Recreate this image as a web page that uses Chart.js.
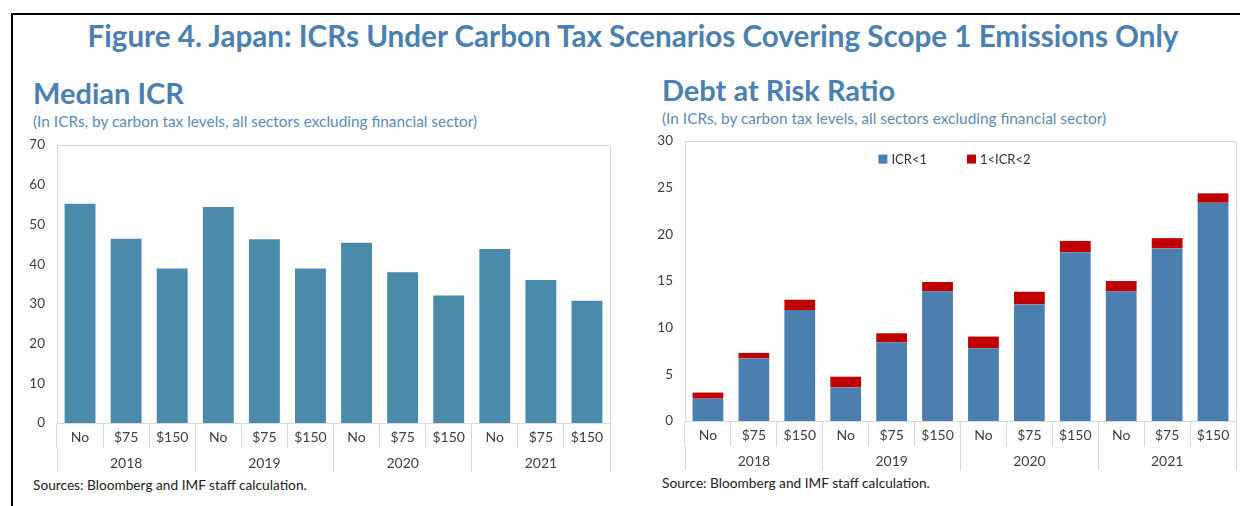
<!DOCTYPE html>
<html>
<head>
<meta charset="utf-8">
<script src="https://cdn.jsdelivr.net/npm/chart.js@4.4.1/dist/chart.umd.min.js"></script>
<style>
  body { margin: 0; width: 1240px; height: 506px; background: #fff; position: relative; overflow: hidden; font-family: Lato, "Open Sans", sans-serif; }
  .frame { position: absolute; left: 11px; top: 13px; width: 1240px; height: 500px; border-top: 2px solid #000; border-left: 2px solid #000; }
  .txt { position: absolute; white-space: nowrap; }
  .fig { left: 13px; width: 1240px; text-align: center; top: 20px; font-size: 29.6px; line-height: 32px; font-weight: 700; color: #4a80b2; }
  .head { font-size: 29px; line-height: 32px; font-weight: 700; color: #4a80b2; }
  .sub { font-size: 15.4px; line-height: 18px; color: #5b8cbc; }
  .src { font-size: 13.7px; line-height: 16px; color: #222; }
  canvas { position: absolute; }
</style>
</head>
<body>
<div class="frame"></div>
<div class="txt fig">Figure 4. Japan: ICRs Under Carbon Tax Scenarios Covering Scope 1 Emissions Only</div>

<div class="txt head" style="left:33px; top:77px;">Median ICR</div>
<div class="txt sub" style="left:33px; top:112px;">(In ICRs, by carbon tax levels, all sectors excluding financial sector)</div>
<div class="txt src" style="left:33px; top:477px;">Sources: Bloomberg and IMF staff calculation.</div>

<div class="txt head" style="left:662px; top:74px;">Debt at Risk Ratio</div>
<div class="txt sub" style="left:662px; top:109px;">(In ICRs, by carbon tax levels, all sectors excluding financial sector)</div>
<div class="txt src" style="left:662px; top:475px;">Source: Bloomberg and IMF staff calculation.</div>

<canvas id="icrChart" width="600" height="355" style="left:15px; top:125px;"></canvas>
<canvas id="darChart" width="600" height="355" style="left:640px; top:121px;"></canvas>

<script>
const years = ['2018', '2019', '2020', '2021'];
const taxLevels = ['No', '$75', '$150'];
const scenarioLabels = years.flatMap(() => taxLevels);

// median interest coverage ratio per year / tax scenario
const medianIcr = [55.2, 46.4, 38.9, 54.4, 46.3, 38.9, 45.4, 38.0, 32.1, 43.8, 36.0, 30.8];

// debt at risk, split by ICR bucket
const icrBelow1 = [2.4, 6.7, 11.9, 3.6, 8.45, 13.9, 7.8, 12.5, 18.1, 13.9, 18.5, 23.4];
const icr1to2 = [0.65, 0.6, 1.1, 1.15, 0.95, 1.0, 1.25, 1.35, 1.2, 1.1, 1.1, 1.0];

const leftTicks = { min: 0, max: 70, step: 10 };
const rightTicks = { min: 0, max: 30, step: 5 };

const FONT = 'Lato, "Open Sans", sans-serif';
const INK = '#404040';
const RULE = '#d9d9d9';

Chart.defaults.font.family = FONT;
Chart.defaults.color = INK;
Chart.defaults.animation = false;

// light box round the plot area
const plotFrame = {
  id: 'plotFrame',
  beforeDatasetsDraw(chart) {
    const { ctx, chartArea: a } = chart;
    ctx.save();
    ctx.strokeStyle = RULE;
    ctx.lineWidth = 1;
    ctx.strokeRect(Math.round(a.left) + 0.5, Math.round(a.top) + 0.5, Math.round(a.width), Math.round(a.height));
    ctx.restore();
  }
};

// legend drawn inside the plot area, centred near the top
const insideLegend = {
  id: 'insideLegend',
  afterDatasetsDraw(chart, args, opts) {
    if (!opts.display) return;
    const { ctx, chartArea: a } = chart;
    const items = chart.data.datasets.map(d => ({ text: d.label, color: d.backgroundColor }));
    ctx.save();
    ctx.font = opts.font;
    const box = opts.box, gap = opts.gap, spacing = opts.spacing;
    const widths = items.map(it => box + gap + ctx.measureText(it.text).width);
    const total = widths.reduce((s, w) => s + w, 0) + spacing * (items.length - 1);
    let x = (a.left + a.right) / 2 - total / 2 + opts.shiftX;
    const y = a.top + opts.offsetY;
    ctx.textBaseline = 'middle';
    items.forEach((it, i) => {
      ctx.fillStyle = it.color;
      ctx.fillRect(x, y - box / 2, box, box);
      ctx.fillStyle = '#333';
      ctx.fillText(it.text, x + box + gap, y + 1);
      x += widths[i] + spacing;
    });
    ctx.restore();
  }
};

function groupedAxes(yRange, yWidth) {
  return {
    x: {
      stacked: true,
      grid: { offset: true, drawOnChartArea: false, color: RULE, tickLength: 25 },
      border: { display: true, color: RULE },
      ticks: { font: { size: 14 }, color: INK, padding: -19, maxRotation: 0, autoSkip: false },
      afterFit: s => { s.height = 25; }
    },
    x2: {
      type: 'category',
      labels: years,
      position: 'bottom',
      grid: { offset: true, drawOnChartArea: false, color: RULE, tickLength: 24 },
      border: { display: false },
      ticks: { font: { size: 14 }, color: INK, padding: -17, maxRotation: 0 },
      afterFit: s => { s.height = 24; }
    },
    y: {
      stacked: true,
      min: yRange.min,
      max: yRange.max,
      grid: { display: false, drawTicks: false },
      border: { display: true, color: RULE },
      ticks: { stepSize: yRange.step, font: { size: 13.5 }, color: INK, padding: 12 },
      afterFit: s => { s.width = yWidth; }
    }
  };
}

new Chart(document.getElementById('icrChart'), {
  type: 'bar',
  data: {
    labels: scenarioLabels,
    datasets: [{
      label: 'Median ICR',
      data: medianIcr,
      backgroundColor: '#4a8aab',
      categoryPercentage: 1,
      barPercentage: 0.67
    }]
  },
  options: {
    responsive: false,
    layout: { padding: { top: 1, right: 5, left: 0, bottom: 8 } },
    plugins: { legend: { display: false }, tooltip: { enabled: false }, insideLegend: { display: false } },
    scales: groupedAxes(leftTicks, 42)
  },
  plugins: [plotFrame, insideLegend]
});

new Chart(document.getElementById('darChart'), {
  type: 'bar',
  data: {
    labels: scenarioLabels,
    datasets: [
      { label: 'ICR<1', data: icrBelow1, backgroundColor: '#4a7fb0', stack: 'dar', categoryPercentage: 1, barPercentage: 0.67 },
      { label: '1<ICR<2', data: icr1to2, backgroundColor: '#c00000', stack: 'dar', categoryPercentage: 1, barPercentage: 0.67 }
    ]
  },
  options: {
    responsive: false,
    layout: { padding: { top: 1, right: 4, left: 0, bottom: 6 } },
    plugins: {
      legend: { display: false },
      tooltip: { enabled: false },
      insideLegend: { display: true, font: '13px ' + FONT, box: 9, gap: 4, spacing: 40, offsetY: 18, shiftX: -6 }
    },
    scales: groupedAxes(rightTicks, 45)
  },
  plugins: [plotFrame, insideLegend]
});
</script>
</body>
</html>
